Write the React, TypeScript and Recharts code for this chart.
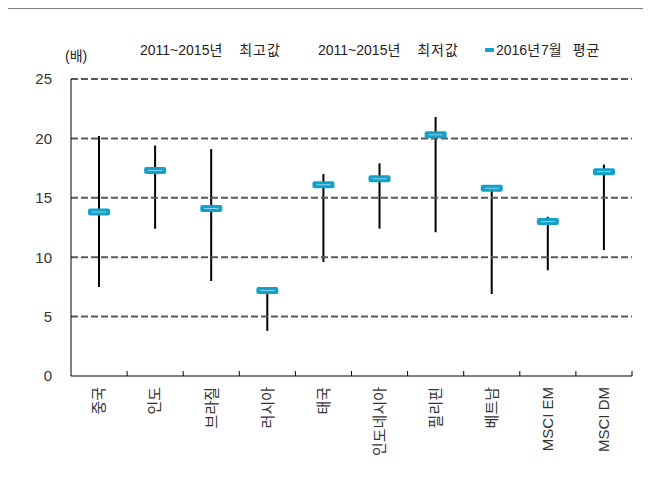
import { ComposedChart, Bar, Line, XAxis, YAxis, ReferenceLine, Customized } from 'recharts'

const categories = ['중국', '인도', '브라질', '러시아', '태국', '인도네시아', '필리핀', '베트남', 'MSCI EM', 'MSCI DM']
const highs = [20.2, 19.4, 19.1, 7.3, 17.0, 17.9, 21.8, 15.9, 13.4, 17.8]
const lows = [7.5, 12.4, 8.0, 3.8, 9.6, 12.4, 12.1, 6.9, 8.9, 10.6]
const avgs = [13.8, 17.3, 14.1, 7.2, 16.1, 16.6, 20.3, 15.8, 13.0, 17.2]
const yTicks = [0, 5, 10, 15, 20, 25]
const gridValues = [5, 10, 15, 20, 25]

const legendLabels = ['2011~2015년 최고값', '2011~2015년 최저값', '2016년7월 평균']

const data = categories.map((name, i) => ({
  name,
  range: [lows[i], highs[i]],
  avg: avgs[i],
}))

const W = 651
const H = 483
const margin = { top: 79, right: 19, left: 0, bottom: 0 }
const yAxisWidth = 71
const xAxisHeight = 107
const halfBand = (W - margin.right - yAxisWidth) / categories.length / 2

const font = '"Liberation Sans", Arial, "Noto Sans CJK KR", sans-serif'
const blue = '#12a1c9'

const legendText = { position: 'absolute' as const, top: 41, fontSize: 14, lineHeight: '18px', color: '#222', wordSpacing: 12, whiteSpace: 'nowrap' as const }

// hangul runs get a bit of extra spacing, like the wide korean font in the original
const LegendLabel = ({ text }: { text: string }) => (
  <>
    {text.split(/([\uAC00-\uD7A3]+)/).map((part, i) =>
      /[\uAC00-\uD7A3]/.test(part)
        ? <span key={i} style={{ letterSpacing: 1 }}>{part}</span>
        : <span key={i}>{part}</span>
    )}
  </>
)

const AvgMarker = (props: any) => {
  const { cx, cy, index } = props
  if (cx == null || cy == null) return <g key={index} />
  return (
    <g key={index}>
      <rect x={cx - 11} y={cy - 3.5} width={22} height={7} rx={2} fill={blue} />
      <line x1={cx - 7} x2={cx + 7} y1={cy} y2={cy} stroke="#8fd3e8" strokeWidth={1} />
    </g>
  )
}

const CategoryTick = (props: any) => {
  const { x, y, payload } = props
  const top = y + 11
  return (
    <g>
      <line x1={x + halfBand} x2={x + halfBand} y1={y} y2={y - 5} stroke="#000" />
      <text
        x={x}
        y={top}
        transform={`rotate(-90, ${x}, ${top})`}
        textAnchor="end"
        dy="0.35em"
        fontSize={15}
        fill="#333"
        fontFamily={font}
      >
        {payload.value}
      </text>
    </g>
  )
}

// gray frame around the whole picture (only left and top edges are visible)
const Frame = () => (
  <path d={`M4 ${H} L4 8 L${W} 8`} fill="none" stroke="#808080" strokeWidth={2} />
)

export default function App() {
  return (
    <div style={{ position: 'relative', width: W, height: H, margin: -8, overflow: 'hidden', background: '#fff', fontFamily: font }}>
      {/* legend + unit label */}
      <div style={{ ...legendText, left: 65, top: 47, wordSpacing: 0 }}>(배)</div>
      <div style={{ ...legendText, left: 140 }}><LegendLabel text={legendLabels[0]} /></div>
      <div style={{ ...legendText, left: 318 }}><LegendLabel text={legendLabels[1]} /></div>
      <div style={{ position: 'absolute', left: 485, top: 48, width: 9, height: 4, borderRadius: 1, background: blue }} />
      <div style={{ ...legendText, left: 496, wordSpacing: 6 }}><LegendLabel text={legendLabels[2]} /></div>

      <div style={{ position: 'absolute', left: 0, top: 0 }}>
        <ComposedChart width={W} height={H} data={data} margin={margin}>
          <Customized component={Frame} />
          {gridValues.map(v => (
            <ReferenceLine key={v} y={v} stroke="#595959" strokeWidth={2} strokeDasharray="7 3" />
          ))}
          <XAxis
            dataKey="name"
            interval={0}
            height={xAxisHeight}
            axisLine={{ stroke: '#000' }}
            tickLine={false}
            tickSize={0}
            tickMargin={0}
            tick={<CategoryTick />}
          />
          <YAxis
            domain={[0, 25]}
            ticks={yTicks}
            width={yAxisWidth}
            axisLine={{ stroke: '#000' }}
            tickLine={false}
            tickSize={0}
            tickMargin={19}
            tick={{ fill: '#333', fontSize: 15, fontFamily: font }}
          />
          <Bar dataKey="range" barSize={2} fill="#000" isAnimationActive={false} />
          <Line dataKey="avg" stroke="none" dot={AvgMarker} activeDot={false} isAnimationActive={false} />
        </ComposedChart>
      </div>
    </div>
  )
}
